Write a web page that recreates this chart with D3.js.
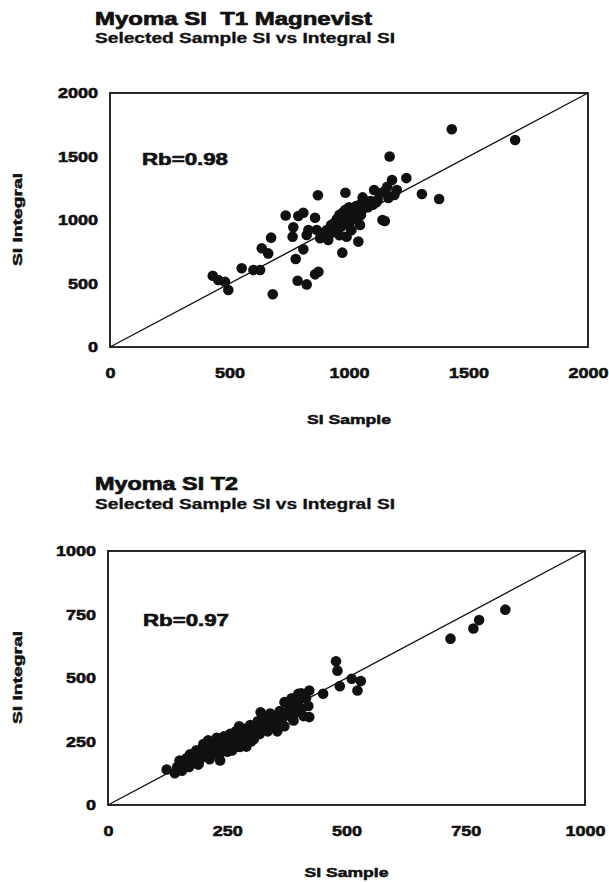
<!DOCTYPE html>
<html>
<head>
<meta charset="utf-8">
<script src="https://cdn.jsdelivr.net/npm/d3@7"></script>
<style>
  html, body { margin: 0; padding: 0; background: #fff; }
  svg text { font-family: "Liberation Sans", Arial, Helvetica, sans-serif; font-weight: bold; fill: #111; white-space: pre; }
</style>
</head>
<body>
<div id="chart"></div>
<script>
// T1 Magnevist panel
const t1Sample = [
  1170, 1430, 1695, 1180, 1240, 1160, 1200, 1190, 1165, 1305, 1377, 1150, 1140, 1105, 1130, 1057,
  985, 870, 735, 788, 809, 858, 767, 764, 674, 830, 823, 865, 886, 907, 913, 879,
  1046, 990, 1039, 972, 635, 662, 809, 777, 551, 600, 628, 872, 858, 785, 823, 430,
  453, 481, 495, 681,
  940, 950, 960, 965, 975, 980, 985, 990, 995, 1000, 1005, 1010, 1015, 1020, 1025, 1030,
  1035, 1040, 1045, 1050, 1060, 1070, 1080, 1090, 1100, 1120, 1000, 970, 1010,
  920, 935, 945, 955, 960, 900, 925, 1115, 1150
];
const t1Integral = [
  1500, 1715, 1630, 1315, 1330, 1262, 1236, 1197, 1173, 1205, 1165, 992, 1000, 1236, 1210, 1178,
  1215, 1195, 1035, 1031, 1057, 1018, 942, 869, 861, 921, 882, 921, 895, 921, 843, 856,
  961, 869, 830, 743, 777, 737, 769, 693, 620, 606, 606, 593, 572, 522, 493, 561,
  528, 514, 449, 415,
  980, 1010, 1040, 1000, 1060, 1020, 1080, 1000, 1050, 1100, 1030, 1070, 1010, 1090, 1050, 1110,
  1000, 1070, 1120, 1040, 1090, 1130, 1100, 1150, 1120, 1160, 960, 950, 920,
  890, 930, 905, 940, 880, 900, 960, 1140, 1230
];

// T2 panel
const t2Sample = [
  833, 778, 766, 718, 478, 481, 486, 511, 530, 523, 451, 422, 399, 422, 389, 123,
  145, 150, 155, 160, 165, 170, 172, 178, 182, 185, 190, 192, 195, 198, 200, 205,
  208, 210, 213, 215, 218, 220, 225, 228, 230, 233, 236, 240, 243, 246, 250, 253,
  256, 260, 264, 268, 272, 276, 280, 285, 290, 294, 298, 302, 306, 310, 314, 318,
  322, 326, 330, 335, 340, 345, 350, 355, 360, 365, 370, 375, 380, 385, 390, 395,
  400, 405, 410, 415, 420, 370, 340, 300, 260, 235, 250, 275, 320, 355, 385, 405,
  277, 140, 168, 188
];
const t2Integral = [
  769, 728, 695, 655, 566, 529, 468, 497, 488, 451, 438, 451, 438, 346, 333, 140,
  150, 175, 135, 165, 185, 150, 200, 170, 190, 215, 160, 205, 185, 225, 240, 195,
  215, 255, 180, 230, 200, 245, 215, 265, 235, 200, 250, 225, 270, 240, 255, 215,
  280, 245, 260, 290, 230, 270, 250, 300, 230, 275, 315, 290, 260, 305, 330, 280,
  300, 345, 320, 290, 335, 310, 350, 325, 370, 340, 310, 355, 380, 345, 395, 365,
  410, 380, 350, 420, 390, 405, 360, 250, 215, 175, 210, 310, 365, 290, 420, 440,
  229, 125, 180, 160
];

const t1Ticks = [0, 500, 1000, 1500, 2000];
const t2Ticks = [0, 250, 500, 750, 1000];

const panels = [
  {
    title: 'Myoma SI  T1 Magnevist', titleW: 277, titleY: 25,
    subtitle: 'Selected Sample SI vs Integral SI', subW: 300, subY: 43,
    xs: t1Sample, ys: t1Integral, ticks: t1Ticks, max: 2000,
    left: 110, right: 588, top: 93, bottom: 347,
    rb: 'Rb=0.98', rbX: 142, rbY: 165, xLabelY: 424
  },
  {
    title: 'Myoma SI T2', titleW: 143, titleY: 490,
    subtitle: 'Selected Sample SI vs Integral SI', subW: 300, subY: 509,
    xs: t2Sample, ys: t2Integral, ticks: t2Ticks, max: 1000,
    left: 108, right: 585, top: 551, bottom: 805,
    rb: 'Rb=0.97', rbX: 143, rbY: 626, xLabelY: 877
  }
];

const svg = d3.select('#chart')
  .append('svg')
  .attr('width', 609)
  .attr('height', 882);

// slightly thicken glyphs, the print is heavy
const heavy = (sel, w) => sel.attr('stroke', '#111').attr('stroke-width', w).attr('stroke-linejoin', 'round');

const drawPanel = (p) => {
  const g = svg.append('g');

  const x = d3.scaleLinear().domain([0, p.max]).range([p.left, p.right]);
  const y = d3.scaleLinear().domain([0, p.max]).range([p.bottom, p.top]);

  g.append('text')
    .attr('x', 95).attr('y', p.titleY)
    .attr('font-size', 18)
    .attr('textLength', p.titleW).attr('lengthAdjust', 'spacingAndGlyphs')
    .text(p.title)
    .call(heavy, 0.7);

  g.append('text')
    .attr('x', 95).attr('y', p.subY)
    .attr('font-size', 14)
    .attr('textLength', p.subW).attr('lengthAdjust', 'spacingAndGlyphs')
    .text(p.subtitle)
    .call(heavy, 0.3);

  // axes: labels only, no tick marks
  const xAxis = g.append('g')
    .attr('transform', `translate(0,${p.bottom})`)
    .call(d3.axisBottom(x).tickValues(p.ticks).tickFormat(d3.format('d')).tickSize(0).tickPadding(20.5));
  const yAxis = g.append('g')
    .attr('transform', `translate(${p.left},0)`)
    .call(d3.axisLeft(y).tickValues(p.ticks).tickFormat(d3.format('d')).tickSize(0).tickPadding(12));
  [xAxis, yAxis].forEach((a) => {
    a.select('.domain').remove();
    a.selectAll('text')
      .attr('font-size', 15)
      .attr('fill', '#111')
      .attr('font-family', '"Liberation Sans", Arial, sans-serif')
      .attr('font-weight', 'bold')
      .attr('textLength', (d) => String(d).length * 10)
      .attr('lengthAdjust', 'spacingAndGlyphs')
      .call(heavy, 0.6);
  });

  // frame
  g.append('rect')
    .attr('x', p.left).attr('y', p.top)
    .attr('width', p.right - p.left).attr('height', p.bottom - p.top)
    .attr('fill', 'none').attr('stroke', '#111').attr('stroke-width', 1.8);

  // line of identity
  g.append('line')
    .attr('x1', x(0)).attr('y1', y(0))
    .attr('x2', x(p.max)).attr('y2', y(p.max))
    .attr('stroke', '#111').attr('stroke-width', 1.4);

  g.selectAll('circle.dot')
    .data(p.xs.map((v, i) => [v, p.ys[i]]))
    .join('circle')
    .attr('class', 'dot')
    .attr('cx', (d) => x(d[0]))
    .attr('cy', (d) => y(d[1]))
    .attr('r', 5.3)
    .attr('fill', '#111');

  g.append('text')
    .attr('x', p.rbX).attr('y', p.rbY)
    .attr('font-size', 16)
    .attr('textLength', 86).attr('lengthAdjust', 'spacingAndGlyphs')
    .text(p.rb)
    .call(heavy, 0.6);

  g.append('text')
    .attr('x', (p.left + p.right) / 2 - 42).attr('y', p.xLabelY)
    .attr('font-size', 13)
    .attr('textLength', 84).attr('lengthAdjust', 'spacingAndGlyphs')
    .text('SI Sample')
    .call(heavy, 0.5);

  const cy = (p.top + p.bottom) / 2;
  g.append('text')
    .attr('transform', `translate(22,${cy + 46}) rotate(-90)`)
    .attr('font-size', 13)
    .attr('textLength', 93).attr('lengthAdjust', 'spacingAndGlyphs')
    .text('SI Integral')
    .call(heavy, 0.5);
};

panels.forEach(drawPanel);
</script>
</body>
</html>
